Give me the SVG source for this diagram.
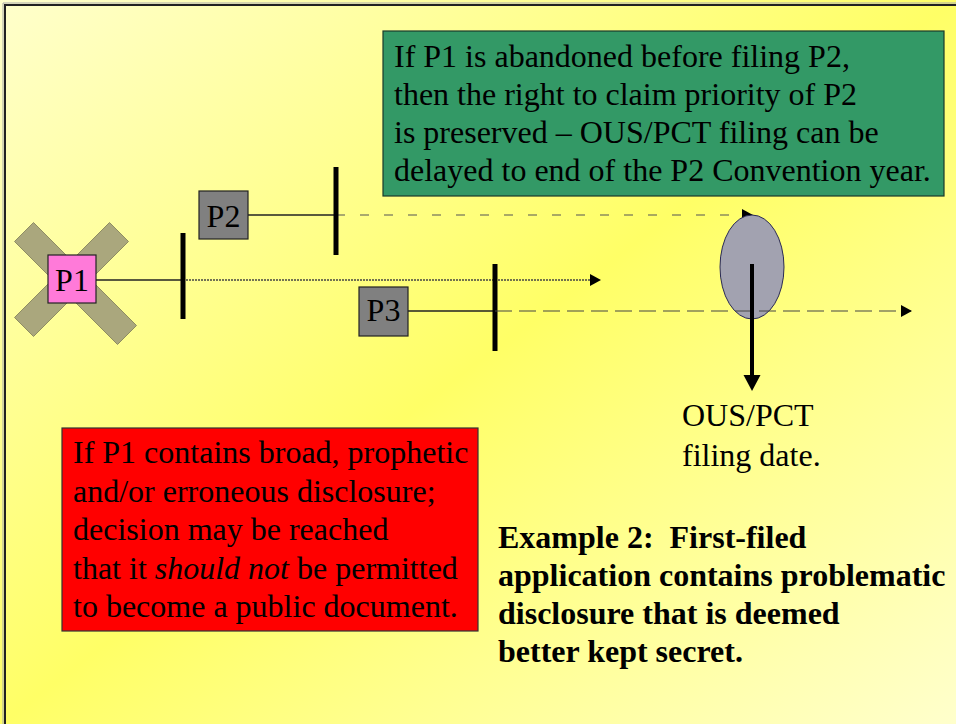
<svg xmlns="http://www.w3.org/2000/svg" width="956" height="724" viewBox="0 0 956 724">
  <defs>
    <linearGradient id="bg" x1="0" y1="0" x2="1" y2="1">
      <stop offset="0" stop-color="#ffffcc"/>
      <stop offset="0.5" stop-color="#ffff66"/>
      <stop offset="1" stop-color="#ffffcc"/>
    </linearGradient>
    <marker id="tri" markerUnits="userSpaceOnUse" markerWidth="11" markerHeight="12" refX="10" refY="6" orient="auto">
      <path d="M0,0 L11,6 L0,12 z" fill="#000"/>
    </marker>
    <style>
      text { font-family: "Liberation Serif", "Times New Roman", serif; font-size: 32px; fill: #000; }
      .bold { font-weight: bold; }
      .box { stroke: #222; stroke-width: 1.2; }
      .bar { stroke: #000; stroke-width: 5; }
      .solid { stroke: #222; stroke-width: 1.3; fill: none; }
      .dot { stroke: #444; stroke-width: 1.3; fill: none; stroke-dasharray: 2 1; }
      .dash2 { stroke: #555; stroke-width: 1.1; fill: none; stroke-dasharray: 9 15; }
      .dash3 { stroke: #444; stroke-width: 1.2; fill: none; stroke-dasharray: 17 7; }
      .xarm { fill: #aaa77d; stroke: #7d7b58; stroke-width: 0.8; }
    </style>
  </defs>

  <rect x="0" y="0" width="956" height="724" fill="url(#bg)"/>
  <path d="M5,724 L5,5 L956,5" fill="none" stroke="#222" stroke-width="2"/>
  <path d="M3,724 L3,3 L956,3" fill="none" stroke="#aaa" stroke-width="1"/>

  <g id="cross">
    <polygon class="xarm" points="14.5,241.5 33.5,222.5 136.5,325.5 117.5,344.5"/>
    <polygon class="xarm" points="109.5,222.5 128.5,241.5 33.5,336.5 14.5,317.5"/>
  </g>

  <g id="connectors">
    <line class="solid" x1="96" y1="280" x2="183" y2="280"/>
    <line class="dot" x1="183" y1="280" x2="600" y2="280" marker-end="url(#tri)"/>
    <line class="bar" x1="183" y1="233" x2="183" y2="319"/>

    <line class="solid" x1="248" y1="215" x2="336" y2="215"/>
    <line class="dash2" x1="336" y1="215" x2="752" y2="215" marker-end="url(#tri)"/>
    <line class="bar" x1="336" y1="167" x2="336" y2="255"/>

    <line class="solid" x1="408" y1="311" x2="495" y2="311"/>
    <line class="bar" x1="495" y1="264" x2="495" y2="351"/>
  </g>

  <g id="ellipse-node">
    <ellipse cx="752" cy="267" rx="32" ry="52" fill="#a2a2b0" stroke="#2a2a55" stroke-width="1"/>
  </g>

  <g id="connectors-2">
    <line class="dash3" x1="495" y1="311" x2="911" y2="311" marker-end="url(#tri)"/>
    <line x1="752" y1="264" x2="752" y2="377" stroke="#000" stroke-width="4"/>
    <polygon points="743.5,375 760.5,375 752,391" fill="#000"/>
  </g>

  <g id="p1">
    <rect class="box" x="48" y="255" width="48" height="48" fill="#ff7ad9"/>
    <text x="72" y="291" text-anchor="middle">P1</text>
  </g>
  <g id="p2">
    <rect class="box" x="199" y="191" width="49" height="48" fill="#808080"/>
    <text x="223.5" y="227" text-anchor="middle">P2</text>
  </g>
  <g id="p3">
    <rect class="box" x="359" y="287" width="49" height="49" fill="#808080"/>
    <text x="383.5" y="321" text-anchor="middle">P3</text>
  </g>

  <g id="green-note">
    <rect x="383" y="31" width="561" height="165" fill="#339966" stroke="#1a3a2a" stroke-width="1.2"/>
    <text x="394" y="67">If P1 is abandoned before filing P2,</text>
    <text x="394" y="105">then the right to claim priority of P2</text>
    <text x="394" y="143">is preserved – OUS/PCT filing can be</text>
    <text x="394" y="181">delayed to end of the P2 Convention year.</text>
  </g>

  <g id="red-note">
    <rect x="62" y="428" width="416" height="203" fill="#ff0000" stroke="#333" stroke-width="1.2"/>
    <text x="73" y="463">If P1 contains broad, prophetic</text>
    <text x="73" y="501.5">and/or erroneous disclosure;</text>
    <text x="73" y="540">decision may be reached</text>
    <text x="73" y="578.5">that it <tspan font-style="italic">should not</tspan> be permitted</text>
    <text x="73" y="617">to become a public document.</text>
  </g>

  <g id="filing-label">
    <text x="682" y="426">OUS/PCT</text>
    <text x="682" y="466">filing date.</text>
  </g>

  <g id="example-label">
    <text class="bold" x="498" y="548">Example 2:&#160; First-filed</text>
    <text class="bold" x="498" y="586">application contains problematic</text>
    <text class="bold" x="498" y="624">disclosure that is deemed</text>
    <text class="bold" x="498" y="662">better kept secret.</text>
  </g>
</svg>
